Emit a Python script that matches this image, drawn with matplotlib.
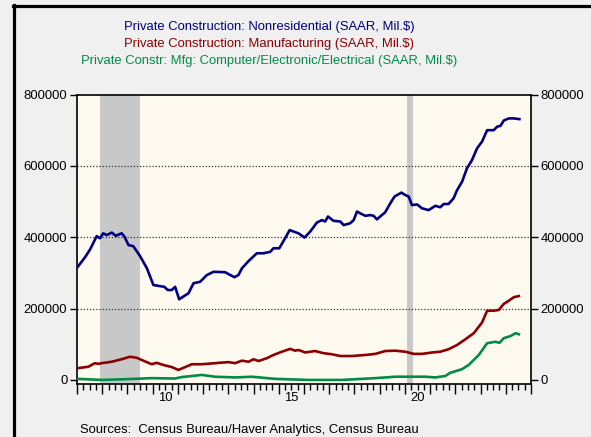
import matplotlib
matplotlib.use("Agg")
import matplotlib.pyplot as plt
import numpy as np

plt.rcParams["font.family"] = ["Liberation Sans", "DejaVu Sans"]

# ---- data (decimal years / millions of $) ----------------------------------
nonres_t = [2007.03, 2007.32, 2007.52, 2007.78, 2007.91, 2008.04, 2008.18, 2008.38, 2008.54,
            2008.77, 2008.88, 2009.04, 2009.23, 2009.5, 2009.77, 2010.03, 2010.46, 2010.6,
            2010.76, 2010.89, 2011.05, 2011.42, 2011.62, 2011.88, 2012.15, 2012.41, 2012.87,
            2013.0, 2013.24, 2013.4, 2013.54, 2013.8, 2014.13, 2014.39, 2014.66, 2014.79,
            2015.02, 2015.25, 2015.43, 2015.58, 2015.78, 2016.02, 2016.25, 2016.51, 2016.71,
            2016.84, 2016.95, 2017.17, 2017.44, 2017.57, 2017.83, 2017.97, 2018.1, 2018.23,
            2018.43, 2018.63, 2018.76, 2018.89, 2019.02, 2019.22, 2019.42, 2019.59, 2019.86,
            2020.02, 2020.15, 2020.28, 2020.48, 2020.68, 2020.94, 2021.21, 2021.4, 2021.54,
            2021.73, 2021.93, 2022.07, 2022.27, 2022.46, 2022.66, 2022.86, 2023.06, 2023.26,
            2023.52, 2023.66, 2023.79, 2023.92, 2024.12, 2024.32, 2024.54]
nonres_v = [317, 344, 366, 403, 397, 411, 406, 413, 404,
            411, 402, 378, 375, 347, 313, 266, 261, 252,
            252, 261, 226, 243, 271, 275, 294, 303, 302,
            297, 288, 294, 313, 333, 355, 355, 359, 369,
            369, 397, 420, 416, 411, 399, 416, 441, 448,
            444, 458, 446, 444, 434, 439, 448, 472, 467,
            460, 462, 460, 450, 458, 470, 495, 514, 525,
            518, 514, 490, 492, 481, 476, 488, 484, 493,
            493, 509, 532, 556, 593, 616, 649, 668, 700,
            700, 710, 712, 727, 733, 733, 731]

mfg_t = [2007.03, 2007.45, 2007.71, 2007.85, 2007.98, 2008.38, 2008.77, 2009.1, 2009.37,
         2009.63, 2009.96, 2010.16, 2010.42, 2010.76, 2011.02, 2011.29, 2011.55, 2011.95,
         2012.48, 2013.0, 2013.27, 2013.54, 2013.8, 2014.0, 2014.2, 2014.53, 2014.79,
         2015.12, 2015.45, 2015.65, 2015.78, 2016.05, 2016.44, 2016.77, 2017.1, 2017.44,
         2017.9, 2018.43, 2018.83, 2019.22, 2019.62, 2020.02, 2020.35, 2020.68, 2021.08,
         2021.4, 2021.73, 2022.07, 2022.4, 2022.73, 2023.06, 2023.26, 2023.52, 2023.72,
         2023.92, 2024.12, 2024.32, 2024.52]
mfg_v = [33, 37, 47, 45, 47, 51, 58, 65, 62,
         54, 44, 48, 42, 36, 28, 36, 44, 44,
         47, 50, 47, 54, 51, 58, 53, 61, 70,
         79, 87, 82, 84, 77, 81, 75, 72, 67,
         67, 70, 73, 81, 82, 79, 73, 73, 77,
         79, 86, 98, 114, 131, 161, 194, 194, 196,
         213, 222, 232, 235]

cee_t = [2007.03, 2007.98, 2008.9, 2009.96, 2010.89, 2011.15, 2011.95, 2012.48, 2013.27,
         2013.93, 2014.86, 2016.18, 2017.5, 2018.83, 2019.62, 2020.8, 2021.2, 2021.6,
         2021.8, 2022.26, 2022.53, 2022.93, 2023.26, 2023.59, 2023.75, 2023.92, 2024.19,
         2024.39, 2024.52]
cee_v = [3, 0, 2, 5, 4, 8, 14, 9, 7,
         9, 3, 0, 0, 5, 9, 9, 7, 11,
         20, 30, 42, 70, 103, 107, 104, 117, 123,
         131, 128]

recessions = [(2007.917, 2009.5), (2020.083, 2020.333)]
year_labels = ["10", "15", "20"]
label_years = [2010, 2015, 2020]

titles = ["Private Construction: Nonresidential (SAAR, Mil.$)",
          "Private Construction: Manufacturing (SAAR, Mil.$)",
          "Private Constr: Mfg: Computer/Electronic/Electrical (SAAR, Mil.$)"]
colors = ["#000080", "#8b0000", "#008c46"]

# ---- figure ------------------------------------------------------------------
W, H = 591, 437
fig = plt.figure(figsize=(W / 100, H / 100), dpi=100, facecolor="#f0f0f0")
ax = fig.add_axes([77 / W, 1 - 383.5 / H, (531 - 77) / W, (383.5 - 94.5) / H])
ax.set_facecolor("#fffaf0")

for a, b in recessions:
    ax.axvspan(a, b, color="#c8c8c8", lw=0, zorder=0)

for y in [200000, 400000, 600000]:
    ax.axhline(y, color="#333333", lw=0.9, ls=(0, (1, 1.5)), zorder=1)

series = [(nonres_t, nonres_v), (mfg_t, mfg_v), (cee_t, cee_v)]
for (t, v), c in zip(series, colors):
    ax.plot(t, np.array(v) * 1000, color=c, lw=1.9, zorder=3)

ax.set_xlim(2007, 2025)
ax.set_ylim(-10000, 800000)
ax.set_yticks([0, 200000, 400000, 600000, 800000])
ax.set_yticklabels(["0", "200000", "400000", "600000", "800000"])
ax.tick_params(axis="y", which="both", left=True, right=True, labelleft=True,
               labelright=True, length=5, width=1, labelsize=9.4, pad=2)
ax.set_xticks(np.arange(2007, 2026))
ax.set_xticks(np.arange(2007, 2025.01, 0.25), minor=True)
ax.set_xticklabels([])
ax.tick_params(axis="x", which="major", length=7, width=1)
ax.tick_params(axis="x", which="minor", length=4, width=1)
for s in ax.spines.values():
    s.set_linewidth(1.2)

# year labels sit in the middle of each year
for yr, lab in zip(label_years, year_labels):
    fig.text((77 + (yr + 0.5 - 2007) * (531 - 77) / 18) / W, 1 - 398 / H, lab,
             ha="center", va="center", fontsize=9.4)

# titles
for i, (txt, c) in enumerate(zip(titles, colors)):
    fig.text(269 / W, 1 - (26.7 + 17.2 * i) / H, txt, color=c, ha="center", va="center",
             fontsize=9.4)

fig.text(80 / W, 1 - 430 / H, "Sources:  Census Bureau/Haver Analytics, Census Bureau",
         ha="left", va="center", fontsize=9.4)

# frame lines
fig.add_artist(plt.Line2D([14 / W, 14 / W], [0, 1 - 5 / H], color="black", lw=2.3))
fig.add_artist(plt.Line2D([13 / W, 1], [1 - 6 / H, 1 - 6 / H], color="black", lw=2.3))

fig.savefig("out.png", dpi=100, facecolor=fig.get_facecolor())
